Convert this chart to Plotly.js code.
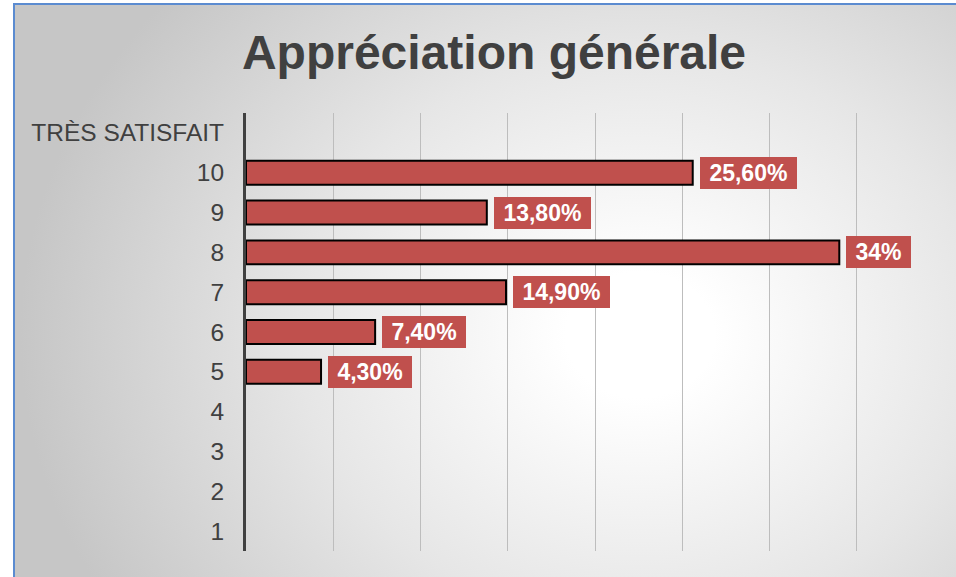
<!DOCTYPE html>
<html>
<head>
<meta charset="utf-8">
<script src="https://cdn.plot.ly/plotly-3.0.1.min.js"></script>
<style>
  html, body { margin: 0; padding: 0; width: 956px; height: 577px; overflow: hidden; background: #ffffff; }
  #frame { position: absolute; left: 13px; top: 3px; width: 1000px; height: 640px;
    border-left: 2px solid #5b8bd0; border-top: 2px solid #5b8bd0;
    background: radial-gradient(ellipse 620px 520px at 625px 330px, #ffffff 0%, #ffffff 12%, #e6e6e6 55%, #c6c6c6 100%); }
  #chart { position: absolute; left: 0; top: 0; width: 956px; height: 577px; }
</style>
</head>
<body>
<div id="frame"></div>
<div id="chart"></div>
<script>
const categories = ['1', '2', '3', '4', '5', '6', '7', '8', '9', '10', 'TRÈS SATISFAIT'];
const values = [null, null, null, null, 4.3, 7.4, 14.9, 34, 13.8, 25.6, null];
const valueLabels = ['', '', '', '', '4,30%', '7,40%', '14,90%', '34%', '13,80%', '25,60%', ''];
const xTicks = [0, 5, 10, 15, 20, 25, 30, 35, 40];

const barColor = '#C0504D';

const trace = {
  type: 'bar',
  orientation: 'h',
  y: categories,
  x: values,
  marker: { color: barColor, line: { color: '#000000', width: 2 } },
  hoverinfo: 'skip'
};

const annotations = [];
categories.forEach((c, i) => {
  if (values[i] !== null && valueLabels[i]) {
    annotations.push({
      x: values[i], y: i, xref: 'x', yref: 'y',
      text: '\u00a0<b>' + valueLabels[i] + '</b>\u00a0',
      showarrow: false, xanchor: 'left', yanchor: 'middle', xshift: 7,
      bgcolor: barColor, borderpad: 3, borderwidth: 0,
      font: { family: 'Liberation Sans, Arial, sans-serif', size: 23, color: '#ffffff' }
    });
  }
});

const layout = {
  width: 956, height: 577,
  margin: { l: 246, r: 12, t: 113, b: 26 },
  paper_bgcolor: 'rgba(0,0,0,0)',
  plot_bgcolor: 'rgba(0,0,0,0)',
  bargap: 0.4,
  showlegend: false,
  title: {
    text: '<b>Appréciation générale</b>',
    font: { family: 'Liberation Sans, Arial, sans-serif', size: 48, color: '#404040' },
    x: 494 / 956, xanchor: 'center', xref: 'container',
    y: 1 - 52 / 577, yanchor: 'middle', yref: 'container'
  },
  xaxis: {
    range: [0, 40], tickvals: xTicks, showticklabels: false,
    showgrid: true, gridcolor: '#bdbdbd', gridwidth: 1,
    zeroline: false, showline: false, fixedrange: true
  },
  yaxis: {
    type: 'category', categoryorder: 'array', categoryarray: categories,
    showline: true, linecolor: '#404040', linewidth: 3,
    ticks: 'outside', ticklen: 14, tickcolor: 'rgba(0,0,0,0)',
    tickfont: { family: 'Liberation Sans, Arial, sans-serif', size: 24.5, color: '#404040' },
    showgrid: false, zeroline: false, fixedrange: true
  },
  annotations: annotations,
  font: { family: 'Liberation Sans, Arial, sans-serif' }
};

Plotly.newPlot('chart', [trace], layout, { displayModeBar: false, staticPlot: true });
</script>
</body>
</html>
